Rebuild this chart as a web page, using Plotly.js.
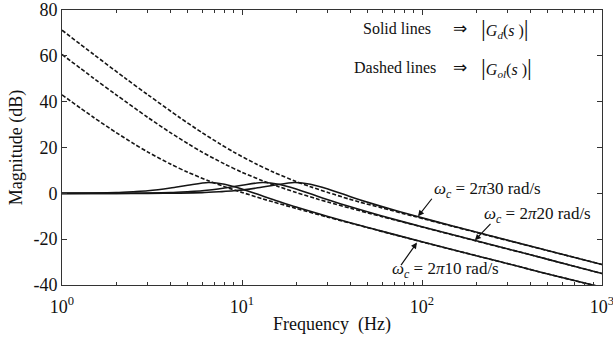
<!DOCTYPE html>
<html>
<head>
<meta charset="utf-8">
<script src="https://cdn.plot.ly/plotly-3.0.1.min.js"></script>
<style>html,body{margin:0;padding:0;background:#fff;}#chart{width:613px;height:345px;}</style>
</head>
<body>
<div id="chart"></div>
<script>
// Frequency points (Hz) and magnitudes (dB)
const freq10 = [1, 1.5, 2, 2.5, 3, 4, 5, 6.5, 8, 10, 13, 15, 20, 30, 50, 100, 200, 333, 500, 1000];
const gol10  = [43.0, 33.1, 26.5, 21.7, 18.0, 12.8, 9.2, 5.5, 2.9, 0.4, -2.4, -3.8, -6.6, -10.4, -15.0, -21.2, -27.2, -31.6, -35.2, -41.0];
const gd10   = [0.0, 0.1, 0.3, 0.7, 1.1, 2.3, 3.5, 4.7, 4.0, 1.9, -1.2, -2.8, -6.0, -10.1, -14.9, -21.1, -27.2, -31.6, -35.2, -41.0];

const freq20 = [1, 1.5, 2, 3, 4, 5, 6, 8, 10, 13, 16, 20, 26, 30, 40, 60, 100, 200, 400, 667, 1000];
const gol20  = [60.6, 50.2, 43.0, 33.1, 26.5, 21.7, 18.0, 12.8, 9.2, 5.5, 2.9, 0.4, -2.4, -3.8, -6.5, -10.2, -14.7, -20.8, -26.8, -31.4, -35.0];
const gd20   = [0.0, 0.0, 0.0, 0.1, 0.3, 0.7, 1.1, 2.3, 3.5, 4.7, 4.0, 1.9, -1.2, -2.8, -5.9, -9.9, -14.6, -20.7, -26.8, -31.4, -35.0];

const freq30 = [1, 1.5, 2.25, 3, 4.5, 6, 7.5, 9, 12, 15, 19.5, 24, 30, 39, 45, 60, 90, 150, 300, 600, 1000];
const gol30  = [71.2, 60.6, 50.2, 43.0, 33.1, 26.5, 21.7, 18.0, 12.8, 9.2, 5.5, 2.9, 0.4, -2.4, -3.8, -6.4, -10.0, -14.5, -20.6, -26.6, -31.1];
const gd30   = [0.0, 0.0, 0.0, 0.0, 0.1, 0.3, 0.7, 1.1, 2.3, 3.5, 4.7, 4.0, 1.9, -1.2, -2.8, -5.8, -9.7, -14.4, -20.5, -26.6, -31.1];

const yTickVals = [-40, -20, 0, 20, 40, 60, 80];
const yTickText = ['-40', '-20', '0', '20', '40', '60', '80'];
const xTickVals = [1, 10, 100, 1000];
const xTickText = ['10<sup>0</sup>', '10<sup>1</sup>', '10<sup>2</sup>', '10<sup>3</sup>'];

const minorX = [];
[1, 10, 100].forEach(d => { for (let k = 2; k <= 9; k++) minorX.push(k * d); });

const FONT = '"Liberation Serif", "Times New Roman", serif';
const lineCol = '#151515';
const axCol = '#333';

function dashed(x, y) {
  return {x: x, y: y, type: 'scatter', mode: 'lines', line: {color: lineCol, width: 1.6, dash: '4px,2px', shape: 'spline', smoothing: 0.8}, hoverinfo: 'skip', showlegend: false};
}
function solid(x, y) {
  return {x: x, y: y, type: 'scatter', mode: 'lines', line: {color: lineCol, width: 1.6, shape: 'spline', smoothing: 0.8}, hoverinfo: 'skip', showlegend: false};
}

const data = [
  dashed(freq10, gol10), dashed(freq20, gol20), dashed(freq30, gol30),
  solid(freq10, gd10), solid(freq20, gd20), solid(freq30, gd30),
  // invisible trace bound to the top axis so its ticks render
  {x: [1, 1000], y: [0, 0], xaxis: 'x2', yaxis: 'y', type: 'scatter', mode: 'lines', line: {width: 0}, opacity: 0, hoverinfo: 'skip', showlegend: false}
];

const wc = (n) => '<i>ω</i><sub><i>c</i></sub> = 2<i>π</i>' + n + ' rad/s';
const bar = '<span style="font-size:24px">|</span>';
const tf = {family: FONT, size: 16, color: '#111'};
const lf = {family: FONT, size: 17, color: '#111'};
const arrowFont = {family: '"DejaVu Sans", sans-serif', size: 17, color: '#111'};

const annotations = [
  {xref: 'paper', yref: 'paper', x: 0.687, y: 0.9345, xanchor: 'right', yanchor: 'middle', showarrow: false, text: 'Solid lines', font: tf},
  {xref: 'paper', yref: 'paper', x: 0.737, y: 0.9345, xanchor: 'center', yanchor: 'middle', showarrow: false, text: '\u21D2', font: arrowFont},
  {xref: 'paper', yref: 'paper', x: 0.772, y: 0.9345, xanchor: 'left', yanchor: 'middle', showarrow: false,
   text: bar + '<i>G</i><sub><i>d</i></sub>(<i>s</i> )' + bar, font: tf},
  {xref: 'paper', yref: 'paper', x: 0.696, y: 0.7927, xanchor: 'right', yanchor: 'middle', showarrow: false, text: 'Dashed lines', font: tf},
  {xref: 'paper', yref: 'paper', x: 0.737, y: 0.7927, xanchor: 'center', yanchor: 'middle', showarrow: false, text: '\u21D2', font: arrowFont},
  {xref: 'paper', yref: 'paper', x: 0.772, y: 0.7927, xanchor: 'left', yanchor: 'middle', showarrow: false,
   text: bar + '<i>G</i><sub><i>ol</i></sub>(<i>s</i> )' + bar, font: tf},
  {x: 2.056, y: 1.5, xanchor: 'left', yanchor: 'middle', showarrow: false, text: wc(30), font: lf},
  {x: 2.333, y: -9.5, xanchor: 'left', yanchor: 'middle', showarrow: false, text: wc(20), font: lf},
  {x: 1.822, y: -33.5, xanchor: 'left', yanchor: 'middle', showarrow: false, text: wc(10), font: lf},
  {x: 1.978, y: -10.0, text: '', showarrow: true, arrowhead: 2, arrowsize: 1, arrowwidth: 1.2, arrowcolor: '#111', ax: 15, ay: -19},
  {x: 2.294, y: -20.5, text: '', showarrow: true, arrowhead: 2, arrowsize: 1, arrowwidth: 1.2, arrowcolor: '#111', ax: 17, ay: -18},
  {x: 1.972, y: -21.5, text: '', showarrow: true, arrowhead: 2, arrowsize: 1, arrowwidth: 1.2, arrowcolor: '#111', ax: -17, ay: 24}
];

const layout = {
  width: 613, height: 345,
  margin: {l: 62, r: 11, t: 10, b: 60},
  paper_bgcolor: '#fff', plot_bgcolor: '#fff',
  font: {family: FONT, size: 17, color: '#111'},
  showlegend: false,
  xaxis: {
    type: 'log', range: [0, 3.00001],
    tickvals: xTickVals, ticktext: xTickText,
    ticks: 'inside', ticklen: 5, tickcolor: axCol, tickwidth: 1,
    ticklabeloverflow: 'allow', ticklabelstandoff: 5,
    minor: {tickvals: minorX, ticks: 'inside', ticklen: 3, tickcolor: axCol, tickwidth: 1, showgrid: false},
    showline: true, linecolor: axCol, linewidth: 1, mirror: true,
    showgrid: false, zeroline: false,
    tickfont: {family: FONT, size: 18, color: '#111'},
    title: {text: 'Frequency  (Hz)', font: {family: FONT, size: 18, color: '#111'}, standoff: 1}
  },
  xaxis2: {
    type: 'log', range: [0, 3.00001], overlaying: 'x', side: 'top', anchor: 'y',
    tickvals: xTickVals, showticklabels: false,
    ticks: 'inside', ticklen: 5, tickcolor: axCol, tickwidth: 1,
    minor: {tickvals: minorX, ticks: 'inside', ticklen: 3, tickcolor: axCol, tickwidth: 1, showgrid: false},
    showline: false, showgrid: false, zeroline: false
  },
  yaxis: {
    range: [-40, 80],
    tickvals: yTickVals, ticktext: yTickText,
    ticks: 'inside', ticklen: 5, tickcolor: axCol, tickwidth: 1,
    showline: true, linecolor: axCol, linewidth: 1, mirror: 'ticks',
    showgrid: false, zeroline: false,
    tickfont: {family: FONT, size: 18, color: '#111'},
    title: {text: 'Magnitude (dB)', font: {family: FONT, size: 18, color: '#111'}, standoff: 6}
  },
  annotations: annotations
};

Plotly.newPlot('chart', data, layout, {staticPlot: true, displayModeBar: false});
</script>
</body>
</html>
